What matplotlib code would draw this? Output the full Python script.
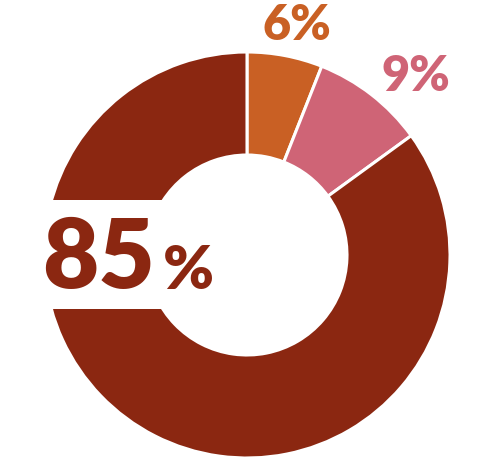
import matplotlib
matplotlib.use("Agg")
import matplotlib.pyplot as plt
from matplotlib.patches import Rectangle

categories = ["A", "B", "C"]
values = [6, 9, 85]
labels = ["6%", "9%", "85%"]
colors = ["#C96024", "#CF6476", "#8B2711"]

W, H = 497, 461
fig = plt.figure(figsize=(W / 100, H / 100), dpi=100)
ax = fig.add_axes([0, 0, 1, 1])

cx, cy = 247, H - 255
R = 203
ax.pie(values, colors=colors, startangle=90, counterclock=False,
       center=(cx, cy), radius=R,
       wedgeprops=dict(width=103, edgecolor="white", linewidth=2.2))
ax.set_xlim(0, W)
ax.set_ylim(0, H)
ax.set_aspect("equal")
ax.axis("off")

# white box behind the big label
ax.add_patch(Rectangle((0, H - 309), 205, 109, facecolor="white",
                       edgecolor="none", zorder=5))

font = "Lato"
ax.text(42, H - 288, "85", fontsize=70, fontweight="heavy", family=font,
        color=colors[2], ha="left", va="baseline", zorder=6)
ax.text(163, H - 289, "%", fontsize=44, fontweight="heavy", family=font,
        color=colors[2], ha="left", va="baseline", zorder=6)

ax.text(297, H - 40, labels[0], fontsize=35, fontweight="heavy", family=font,
        color=colors[0], ha="center", va="baseline")
ax.text(416, H - 91, labels[1], fontsize=35, fontweight="heavy", family=font,
        color=colors[1], ha="center", va="baseline")

fig.savefig("out.png", dpi=100)
